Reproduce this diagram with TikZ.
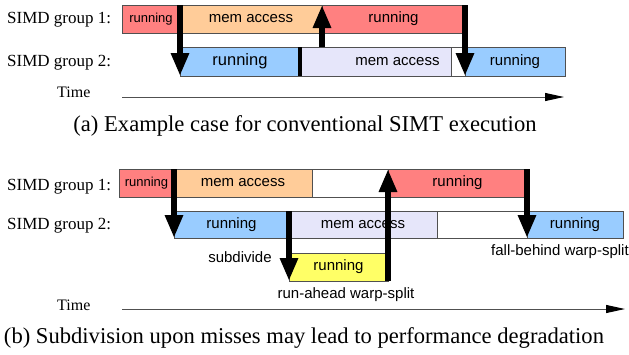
\documentclass[tikz,border=0pt]{standalone}
\usepackage{fontspec}
\setmainfont{Liberation Serif}
\setsansfont{Liberation Sans}
\usetikzlibrary{arrows.meta,calc}
\definecolor{cred}{HTML}{FF8080}
\definecolor{corange}{HTML}{FFCC99}
\definecolor{cblue}{HTML}{99CCFF}
\definecolor{clav}{HTML}{E6E6FA}
\definecolor{cyel}{HTML}{FFFF66}
\definecolor{cedge}{HTML}{505050}
\tikzset{
  seg/.style={draw=cedge, line width=0.8pt, inner sep=0pt, outer sep=0pt,
    font=\sffamily\fontsize{15}{15}\selectfont},
  lab/.style={font=\rmfamily\fontsize{17}{17}\selectfont, anchor=west, inner sep=0pt},
  sublab/.style={font=\sffamily\fontsize{15}{15}\selectfont, inner sep=0pt},
  captext/.style={font=\rmfamily\fontsize{22.6}{22.6}\selectfont, inner sep=0pt},
  bigarrow/.style={line width=6pt, -{Triangle[width=17pt,length=23pt]}},
  axis/.style={draw=cedge, line width=1pt, -{Triangle[width=8pt,length=19pt,color=black]}},
}
% name, x1, x2, y1, y2, fill, text
\newcommand\seg[7]{\node[seg, fill=#6, minimum width={#3-#2}, minimum height={#5-#4}] (#1) at ({(#2+#3)/2},{(#4+#5)/2}) {#7};}
\begin{document}
\begin{tikzpicture}[x=1pt,y=-1pt]
\useasboundingbox (0,0) rectangle (629,354);
% ---------- (a) ----------
\node[lab] (aL1) at (7,20) {SIMD group 1:};
\node[lab] (aL2) at (7,63) {SIMD group 2:};
\node[lab, font=\rmfamily\fontsize{16}{16}\selectfont] (aT) at (57,92) {Time};
\seg{a1r}{122}{180}{5}{33}{cred}{\fontsize{13}{13}\selectfont running}
\seg{a1m}{180}{322}{5}{33}{corange}{mem access}
\seg{a1r2}{322}{465}{5}{33}{cred}{running}
\seg{a2b}{180}{300}{47}{76}{cblue}{\fontsize{16.5}{16.5}\selectfont running}
\seg{a2m}{300}{451}{47}{76}{clav}{\hspace*{44pt}mem access}
\seg{a2w}{451}{465}{47}{76}{white}{}
\seg{a2b2}{465}{565}{47}{76}{cblue}{running}
\draw[line width=4pt] (a2b.north east) -- (a2b.south east);
\draw[bigarrow] (a1r.north east) -- (a1r.north east |- a2b.south);
\draw[bigarrow] (a1m.north east |- a2m.north) -- (a1m.north east);
\draw[bigarrow] (a1r2.north east) -- (a1r2.north east |- a2b2.south);
\coordinate (ta0) at (122,97);
\coordinate (ta1) at (564,97);
\draw[axis] (ta0) -- (ta1);
\node[captext] (capa) at (305,126) {(a) Example case for conventional SIMT execution};
% ---------- (b) ----------
\node[lab] (bL1) at (7,187) {SIMD group 1:};
\node[lab] (bL2) at (7,226) {SIMD group 2:};
\node[lab, font=\rmfamily\fontsize{16}{16}\selectfont] (bT) at (57,305) {Time};
\seg{b1r}{119}{174}{169}{197}{cred}{\fontsize{13}{13}\selectfont running}
\seg{b1m}{174}{312}{169}{197}{corange}{mem access}
\seg{b1w}{312}{388}{169}{197}{white}{}
\seg{b1r2}{388}{527}{169}{197}{cred}{running}
\seg{b2b}{174}{289}{211}{238}{cblue}{running}
\seg{b2m}{289}{437}{211}{238}{clav}{mem access}
\seg{b2w}{437}{527}{211}{238}{white}{}
\seg{b2b2}{527}{623}{211}{238}{cblue}{running}
\seg{b3y}{289}{388}{253}{281}{cyel}{running}
\draw[bigarrow] (b1r.north east) -- (b1r.north east |- b2b.south);
\draw[bigarrow] (b2b.north east) -- (b2b.north east |- b3y.south);
\draw[bigarrow] (b3y.south east) -- (b3y.south east |- b1r2.north);
\draw[bigarrow] (b1r2.north east) -- (b1r2.north east |- b2b2.south);
\node[sublab] (sub) at (240,257) {subdivide};
\node[sublab] (ra) at (346,295) {run-ahead warp-split};
\node[sublab] (fb) at (560,252) {fall-behind warp-split};
\coordinate (tb0) at (122,309);
\coordinate (tb1) at (625,309);
\draw[axis] (tb0) -- (tb1);
\node[captext] (capb) at (304,338) {(b) Subdivision upon misses may lead to performance degradation};
\end{tikzpicture}
\end{document}
